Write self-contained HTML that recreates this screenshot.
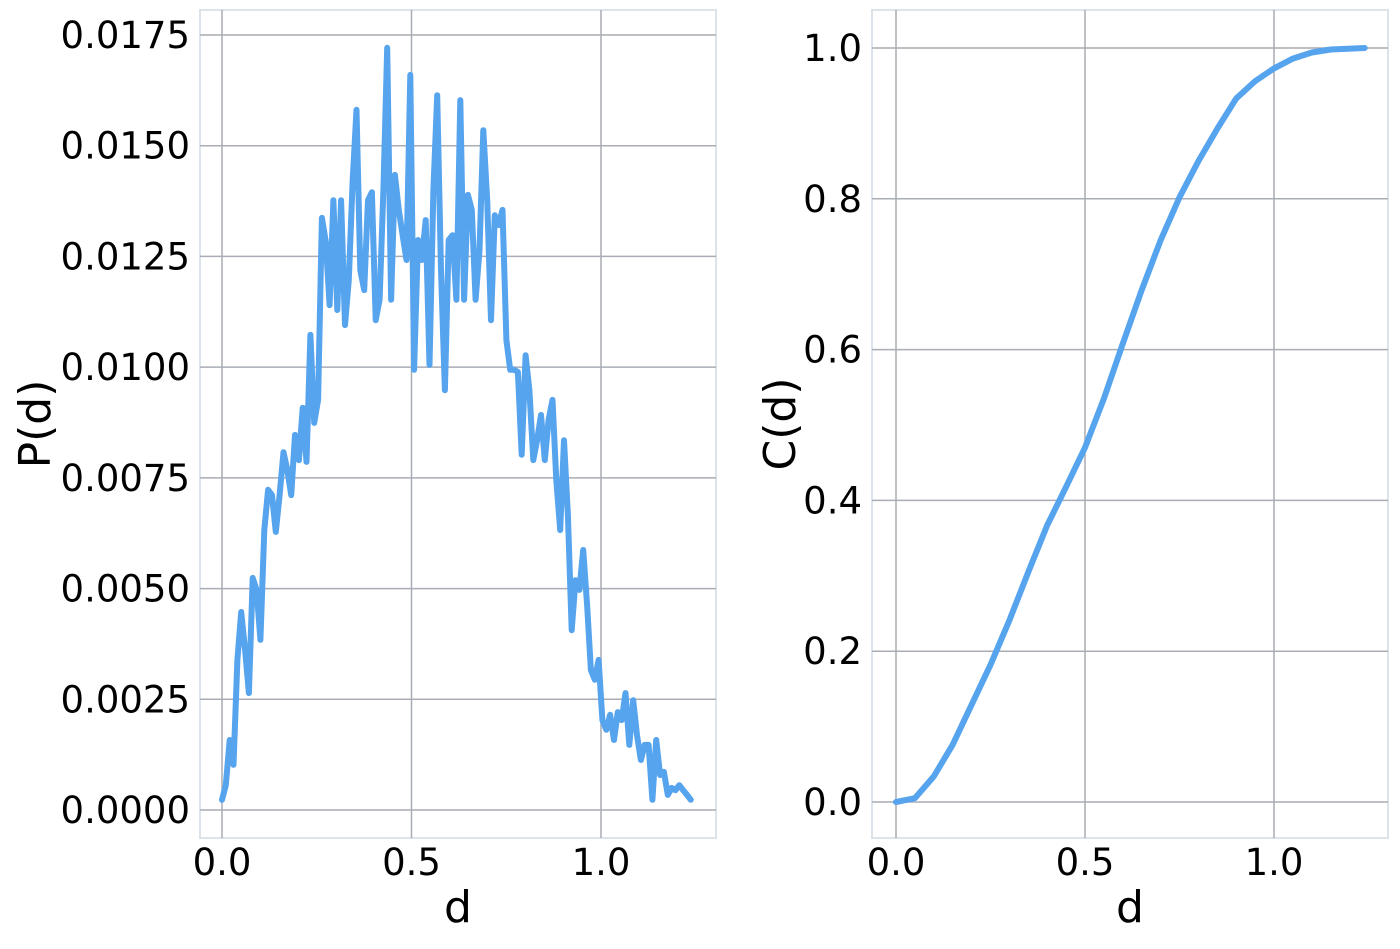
<!DOCTYPE html>
<html><head><meta charset="utf-8"><style>
body{margin:0;background:#fff;}
svg text{font-family:"DejaVu Sans","Liberation Sans",sans-serif;fill:#000;}
</style></head><body>
<svg id="c" width="1400" height="944" viewBox="0 0 1400 944" xmlns="http://www.w3.org/2000/svg"></svg>
<script>
const pdfVals=[2.3,5.6,15.8,10.2,33.9,44.7,36.1,26.4,52.4,49.7,38.4,63.2,72.3,71.1,62.8,71.1,80.8,76.8,71.1,84.7,79.0,90.8,78.6,107.3,87.4,92.6,133.7,128.3,114.0,137.7,112.9,137.7,109.5,119.7,142.3,158.1,121.9,117.4,137.7,139.5,110.6,115.2,140.0,172.1,115.2,143.4,135.5,129.8,124.2,166.0,99.4,128.7,124.2,133.2,100.5,140.0,161.4,121.9,94.8,128.7,129.8,115.2,160.3,115.2,138.9,135.5,115.2,126.4,153.5,137.7,110.6,134.3,132.1,135.5,106.1,99.4,99.4,98.9,80.2,102.7,94.8,79.0,83.5,89.2,79.0,88.1,92.6,74.5,63.2,83.5,66.6,40.6,51.9,49.7,58.7,46.3,31.6,29.4,33.9,20.3,18.1,21.5,15.8,22.1,20.3,26.4,14.7,24.8,16.9,11.3,14.7,14.7,2.3,15.8,7.9,8.6,3.4,5.0,4.5,5.6,4.5,3.4,2.3];
const pdfMaxD=1.237;
const cdfD=[0,0.05,0.1,0.15,0.2,0.25,0.3,0.35,0.4,0.45,0.5,0.55,0.6,0.65,0.7,0.75,0.8,0.85,0.9,0.95,1.0,1.05,1.1,1.15,1.24];
const cdfVals=[0,0.005,0.034,0.076,0.129,0.182,0.241,0.305,0.367,0.418,0.47,0.535,0.608,0.679,0.745,0.802,0.85,0.893,0.933,0.956,0.973,0.986,0.994,0.998,1.0];
const xTicks=[0,0.5,1.0];
const xTickLabels=["0.0","0.5","1.0"];
const pTicks=[0,0.0025,0.005,0.0075,0.01,0.0125,0.015,0.0175];
const pTickLabels=["0.0000","0.0025","0.0050","0.0075","0.0100","0.0125","0.0150","0.0175"];
const cTicks=[0,0.2,0.4,0.6,0.8,1.0];
const cTickLabels=["0.0","0.2","0.4","0.6","0.8","1.0"];

const svg=document.getElementById('c');
const NS='http://www.w3.org/2000/svg';
function mk(tag,attrs,parent){const e=document.createElementNS(NS,tag);for(const k in attrs)e.setAttribute(k,attrs[k]);(parent||svg).appendChild(e);return e;}

function panel(name,box,xs,ys,yTicks,yLabels,xsData,ysData,yTitle,titleX){
  const g=mk('g',{});
  
  
  const fr=mk('rect',{x:box.l,y:10,width:box.r-box.l,height:828,fill:'none',stroke:'#dde3ea','stroke-width':2},g);
  
  
  yTicks.forEach((t,i)=>{
    const y=ys(t);
    const l=mk('line',{x1:box.l,x2:box.r,y1:y,y2:y,stroke:'#a8acb4','stroke-width':1.5},g);
    
    
    const tx=mk('text',{x:box.l-10,y:y+13,'font-size':37,'text-anchor':'end'},g);
    tx.textContent=yLabels[i];
    
    
  });
  xTicks.forEach((t,i)=>{
    const x=xs(t);
    const l=mk('line',{x1:x,x2:x,y1:10,y2:838,stroke:'#a8acb4','stroke-width':1.5},g);
    
    
    const tx=mk('text',{x:x,y:875,'font-size':37,'text-anchor':'middle'},g);
    tx.textContent=xTickLabels[i];
    
    
  });
  const pts=xsData.map((d,i)=>xs(d).toFixed(1)+','+ys(ysData[i]).toFixed(1)).join(' ');
  const pl=mk('polyline',{points:pts,fill:'none',stroke:'#56a3ee','stroke-width':6,'stroke-linejoin':'round','stroke-linecap':'round'},g);
  
  
  const xt=mk('text',{x:(box.l+box.r)/2,y:922,'font-size':44,'text-anchor':'middle'},g);
  xt.textContent='d';
  
  
  const yt=mk('text',{x:0,y:0,'font-size':44,'text-anchor':'middle',transform:`translate(${titleX},${424}) rotate(-90)`},g);
  yt.textContent=yTitle;
  
  
}
const xsL=d=>222+d*379, ysL=p=>810-p*44286;
const pdfD=pdfVals.map((v,i)=>i*pdfMaxD/(pdfVals.length-1));
panel('pdf-panel',{l:200,r:716},xsL,ysL,pTicks,pTickLabels,pdfD,pdfVals.map(v=>v*1e-4),'P(d)',50);
const xsR=d=>896+d*378, ysR=c=>802-c*754;
panel('cdf-panel',{l:872,r:1388},xsR,ysR,cTicks,cTickLabels,cdfD,cdfVals,'C(d)',795);
</script>
</body></html>
